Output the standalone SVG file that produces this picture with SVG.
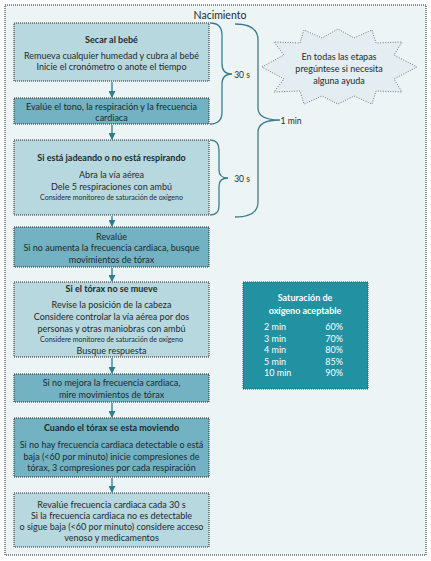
<svg xmlns="http://www.w3.org/2000/svg" width="431" height="561" viewBox="0 0 431 561">
<defs>
<style>
.bg{fill:#edf4f6}
.frame{fill:none;stroke:#222;stroke-width:1;stroke-dasharray:1,1}
.lt{fill:#b8d8e0;stroke:#222;stroke-width:1;stroke-dasharray:1,1}
.dk{fill:#72b2c2;stroke:#222;stroke-width:1;stroke-dasharray:1,1}
.t{font-family:Lato,"Open Sans",sans-serif;font-size:9px;fill:#1c2a2e;text-anchor:middle}
.b{font-weight:bold}
.s{font-size:7px}
.brace{fill:none;stroke:#3c7d8c;stroke-width:1.3}
.arr{stroke:#2c7d8e;stroke-width:1.3}
.w{font-family:Lato,"Open Sans",sans-serif;font-size:9px;fill:#fff}
</style>
<marker id="ah" viewBox="0 0 8 8" refX="7" refY="4" markerWidth="7" markerHeight="7" markerUnits="userSpaceOnUse" orient="auto">
<path d="M0,0 L8,4 L0,8 Z" fill="#2c7d8e"/>
</marker>
</defs>
<rect x="0" y="0" width="431" height="561" fill="#fff"/>
<rect class="bg" x="5" y="5" width="421" height="550"/>
<rect class="frame" x="5" y="5" width="421" height="550"/>

<g id="connectors">
<line class="arr" x1="112" y1="82" x2="112" y2="97" marker-end="url(#ah)"/>
<line class="arr" x1="112" y1="125" x2="112" y2="139" marker-end="url(#ah)"/>
<line class="arr" x1="112" y1="216" x2="112" y2="226" marker-end="url(#ah)"/>
<line class="arr" x1="112" y1="268" x2="112" y2="281" marker-end="url(#ah)"/>
<line class="arr" x1="112" y1="358" x2="112" y2="373" marker-end="url(#ah)"/>
<line class="arr" x1="112" y1="403" x2="112" y2="417" marker-end="url(#ah)"/>
<line class="arr" x1="112" y1="478" x2="112" y2="492" marker-end="url(#ah)"/>
</g>

<g id="nacimiento"><text class="t" x="220" y="19" style="font-size:10.5px">Nacimiento</text></g>

<g id="brace1">
<path class="brace" d="M210,23 Q222,23 222,35 L222,64 Q222,74 232,74 Q222,74 222,84 L222,112 Q222,124 210,124"/>
<text class="t" x="242" y="78" style="font-size:8.5px">30 s</text>
</g>
<g id="brace2">
<path class="brace" d="M235,24 Q258,24 258,40 L258,108 Q258,120 280,120 Q258,120 258,132 L258,202 Q258,217 235,217"/>
<text class="t" x="291" y="124" style="font-size:8.5px">1 min</text>
</g>
<g id="brace3">
<path class="brace" d="M210,140 Q219,140 219,150 L219,170 Q219,178 228,178 Q219,178 219,186 L219,206 Q219,215 210,215"/>
<text class="t" x="242" y="182" style="font-size:8.5px">30 s</text>
</g>

<g id="burst">
<path d="M262,67 L284,55 L274,42 L300,43 L304,30 L322,38 L338,29 L354,38 L372,30 L376,43 L402,42 L394,55 L417,67 L394,79 L402,92 L376,91 L372,104 L354,96 L338,104 L322,96 L304,104 L300,91 L274,92 L284,79 Z" fill="#e4eef2" stroke="#555" stroke-width="0.8" stroke-dasharray="1,1.5"/>
<text class="t" x="339" y="60">En todas las etapas</text>
<text class="t" x="339" y="72">pregúntese si necesita</text>
<text class="t" x="339" y="84">alguna ayuda</text>
</g>

<g id="n1">
<rect class="lt" x="14" y="23" width="195" height="58"/>
<text class="t b" x="111.5" y="43">Secar al bebé</text>
<text class="t" x="111.5" y="59">Remueva cualquier humedad y cubra al bebé</text>
<text class="t" x="111.5" y="70">Inicie el cronómetro o anote el tiempo</text>
</g>
<g id="n2">
<rect class="dk" x="14" y="98" width="195" height="26"/>
<text class="t" x="111.5" y="110">Evalúe el tono, la respiración y la frecuencia</text>
<text class="t" x="111.5" y="121">cardiaca</text>
</g>
<g id="n3">
<rect class="lt" x="14" y="140" width="195" height="75"/>
<text class="t b" x="111.5" y="161">Si está jadeando o no está respirando</text>
<text class="t" x="111.5" y="178">Abra la vía aérea</text>
<text class="t" x="111.5" y="190">Dele 5 respiraciones con ambú</text>
<text class="t s" x="111.5" y="200">Considere monitoreo de saturación de oxígeno</text>
</g>
<g id="n4">
<rect class="dk" x="14" y="227" width="195" height="40"/>
<text class="t" x="111.5" y="240">Revalúe</text>
<text class="t" x="111.5" y="251">Si no aumenta la frecuencia cardiaca, busque</text>
<text class="t" x="111.5" y="263">movimientos de tórax</text>
</g>
<g id="n5">
<rect class="lt" x="14" y="282" width="195" height="75"/>
<text class="t b" x="111.5" y="292">Si el tórax no se mueve</text>
<text class="t" x="111.5" y="308">Revise la posición de la cabeza</text>
<text class="t" x="111.5" y="320">Considere controlar la vía aérea por dos</text>
<text class="t" x="111.5" y="332">personas y otras maniobras con ambú</text>
<text class="t s" x="111.5" y="342">Considere monitoreo de saturación de oxígeno</text>
<text class="t" x="111.5" y="354">Busque respuesta</text>
</g>
<g id="n6">
<rect class="dk" x="14" y="374" width="195" height="28"/>
<text class="t" x="111.5" y="386">Si no mejora la frecuencia cardiaca,</text>
<text class="t" x="111.5" y="398">mire movimientos de tórax</text>
</g>
<g id="n7">
<rect class="dk" x="14" y="418" width="195" height="59"/>
<text class="t b" x="111.5" y="431">Cuando el tórax se esta moviendo</text>
<text class="t" x="111.5" y="448">Si no hay frecuencia cardiaca detectable o está</text>
<text class="t" x="111.5" y="460">baja (&lt;60 por minuto) inicie compresiones de</text>
<text class="t" x="111.5" y="471">tórax, 3 compresiones por cada respiración</text>
</g>
<g id="n8">
<rect class="lt" x="14" y="493" width="195" height="54"/>
<text class="t" x="111.5" y="508">Revalúe frecuencia cardiaca cada 30 s</text>
<text class="t" x="111.5" y="519">Si la frecuencia cardiaca no es detectable</text>
<text class="t" x="111.5" y="530">o sigue baja (&lt;60 por minuto) considere acceso</text>
<text class="t" x="111.5" y="541">venoso y medicamentos</text>
</g>

<g id="saturacion">
<rect x="243" y="282" width="125" height="107" fill="#2291a2" stroke="#1a5560" stroke-width="1" stroke-dasharray="1,1"/>
<text class="w b" x="305" y="301" text-anchor="middle">Saturación de</text>
<text class="w b" x="305" y="314" text-anchor="middle">oxígeno aceptable</text>
<text class="w" x="264" y="330">2 min</text><text class="w" x="343" y="330" text-anchor="end">60%</text>
<text class="w" x="264" y="342">3 min</text><text class="w" x="343" y="342" text-anchor="end">70%</text>
<text class="w" x="264" y="353">4 min</text><text class="w" x="343" y="353" text-anchor="end">80%</text>
<text class="w" x="264" y="365">5 min</text><text class="w" x="343" y="365" text-anchor="end">85%</text>
<text class="w" x="264" y="376">10 min</text><text class="w" x="343" y="376" text-anchor="end">90%</text>
</g>
</svg>
